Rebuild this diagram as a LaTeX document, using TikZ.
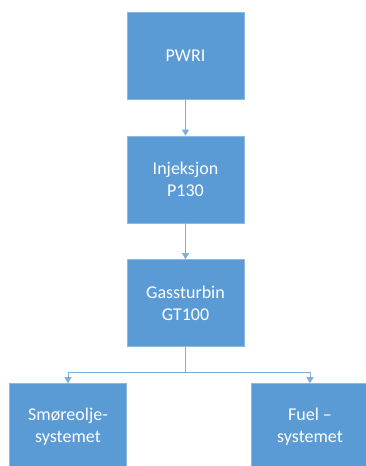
\documentclass[tikz,border=0pt]{standalone}
\usepackage{fontspec}
\setmainfont{Carlito}
\usetikzlibrary{arrows.meta}
\definecolor{boxblue}{HTML}{5B9BD5}
\definecolor{boxedge}{HTML}{8CB8E2}
\definecolor{linkblue}{HTML}{7FAEDD}
\begin{document}
\begin{tikzpicture}[x=1pt,y=-1pt,
  block/.style={draw=boxedge,fill=boxblue,line width=0.6pt,minimum width=117pt,minimum height=87pt,
    text=white,font=\fontsize{18}{22}\selectfont,align=center,inner sep=0pt},
  link/.style={draw=linkblue,line width=1pt,-{Triangle[width=7pt,length=6pt]}}]
\useasboundingbox (0,0) rectangle (366,466);
\clip (0,0) rectangle (366,466);
\node[block] (pwri) at (185.5,55.5) {PWRI};
\node[block] (inj) at (185.5,179.5) {Injeksjon\\P130};
\node[block] (gt) at (185.5,303) {Gassturbin\\GT100};
\node[block] (smo) at (68,427) {Smøreolje-\\systemet};
\node[block] (fuel) at (310,427) {Fuel –\\systemet};
\coordinate (split) at (185.5,372);
\draw[link] (pwri) -- (inj);
\draw[link] (inj) -- (gt);
\draw[draw=linkblue,line width=1pt] (gt.south) -- (split);
\draw[link] (split) -| (smo.north);
\draw[link] (split) -| (fuel.north);
\end{tikzpicture}
\end{document}
